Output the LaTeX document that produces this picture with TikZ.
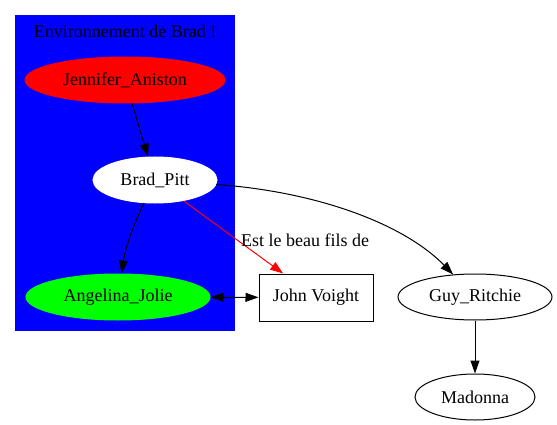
\documentclass[tikz,border=0pt]{standalone}
\usepackage{fontspec}
\setmainfont{Liberation Serif}
\usetikzlibrary{shapes.geometric,arrows.meta}
\definecolor{gvblue}{RGB}{0,0,255}
\definecolor{gvred}{RGB}{255,0,0}
\definecolor{gvgreen}{RGB}{0,255,0}
\newcommand\gvfont{\fontsize{18pt}{21.6pt}\selectfont}
\begin{document}
\begin{tikzpicture}[x=1pt,y=-1pt,font=\gvfont,
  ell/.style={ellipse,draw=black,line width=1pt,inner sep=0pt,font=\gvfont},
  gvbox/.style={rectangle,draw=black,line width=1pt,inner sep=0pt,font=\gvfont},
  gvtext/.style={font=\gvfont},
  gvedge/.style={line width=1pt,-{Triangle[length=13pt,width=9pt]}}]
\useasboundingbox (0,0) rectangle (557,425);
\fill[gvblue] (15,15) rectangle (235,331);
\node[gvtext] (title) at (125,31) {Environnement de Brad !};
\node[ell,fill=gvred,draw=gvred,minimum width=200pt,minimum height=46pt] (jen) at (125,80) {Jennifer\_Aniston};
\node[ell,fill=white,draw=white,minimum width=124pt,minimum height=46pt] (brad) at (155,180) {Brad\_Pitt};
\node[ell,fill=gvgreen,draw=gvgreen,minimum width=184pt,minimum height=46pt] (ang) at (118,297) {Angelina\_Jolie};
\node[gvbox,minimum width=114pt,minimum height=47pt] (john) at (316,297.5) {John Voight};
\node[ell,minimum width=154pt,minimum height=46pt] (guy) at (475,297) {Guy\_Ritchie};
\node[ell,minimum width=120pt,minimum height=46pt] (mad) at (475,397) {Madonna};
\draw[gvedge] (jen) -- (brad);
\draw[gvedge] (brad) .. controls (132,228) and (125,250) .. (ang);
\draw[gvedge,draw=gvred,-{Triangle[length=13pt,width=9pt,fill=gvred]}] (brad) -- (john);
\node[gvtext] (lbl) at (305,240) {Est le beau fils de};
\draw[gvedge] (brad) .. controls (320,192) and (405,225) .. (guy);
\draw[gvedge] (guy) -- (mad);
\draw[line width=1pt,{Triangle[length=13pt,width=9pt]}-{Triangle[length=13pt,width=9pt]}] (ang) -- (john);
\end{tikzpicture}
\end{document}
